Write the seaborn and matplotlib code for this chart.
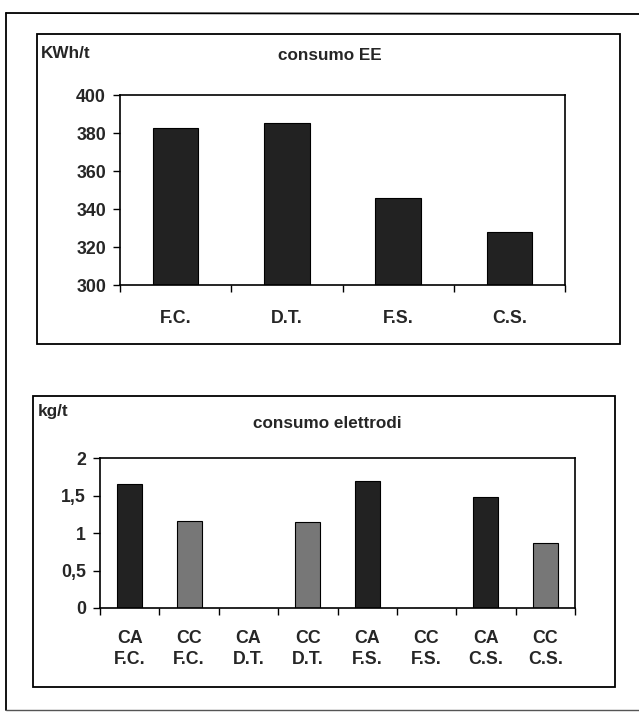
import numpy as np
import pandas as pd
import matplotlib
matplotlib.use("Agg")
import matplotlib.pyplot as plt
from matplotlib.patches import Rectangle
from matplotlib.lines import Line2D
from matplotlib.ticker import FixedLocator
import seaborn as sns

# ---- data ----
EE_CATS = ["F.C.", "D.T.", "F.S.", "C.S."]
EE_VALUES = [382.5, 385.5, 346, 328]
EE_TICKS = [300, 320, 340, 360, 380, 400]

EL_TYPES = ["CA", "CC", "CA", "CC", "CA", "CC", "CA", "CC"]
EL_PLANTS = ["F.C.", "F.C.", "D.T.", "D.T.", "F.S.", "F.S.", "C.S.", "C.S."]
EL_VALUES = [1.65, 1.16, 0, 1.15, 1.69, 0, 1.48, 0.87]
EL_TICKS = [0, 0.5, 1, 1.5, 2]
EL_TICKLABELS = ["0", "0,5", "1", "1,5", "2"]

DARK = "#222222"
GREY = "#777777"
TICK_FS = 12.8
TITLE_FS = 12.3

sns.set_theme(style="white")
plt.rcParams["font.family"] = ["Liberation Sans", "DejaVu Sans"]
plt.rcParams["font.weight"] = "bold"

W, H = 639, 714
fig = plt.figure(figsize=(W / 100, H / 100), dpi=100)


def fx(px): return px / W
def fy(py): return 1 - py / H


def frame(x0, y0, x1, y1, lw=1.3):
    fig.add_artist(Rectangle((fx(x0), fy(y1)), fx(x1) - fx(x0), fy(y0) - fy(y1),
                             transform=fig.transFigure, fill=False,
                             edgecolor="black", linewidth=lw))


def style_axes(ax):
    for s in ax.spines.values():
        s.set_visible(True)
        s.set_color("black")
        s.set_linewidth(1.2)
    ax.tick_params(axis="y", which="major", left=True, length=5, width=1,
                   color="black", pad=5, labelsize=TICK_FS)
    ax.tick_params(axis="x", which="major", bottom=False, labelsize=TICK_FS)
    ax.tick_params(axis="x", which="minor", bottom=True, length=5, width=1,
                   color="black", direction="out")
    for lab in ax.get_yticklabels() + ax.get_xticklabels():
        lab.set_fontweight("bold")
    ax.set_xlabel("")
    ax.set_ylabel("")
    ax.grid(False)


# outer page frame
fig.add_artist(Line2D([fx(6), 1.0], [fy(13), fy(14)], transform=fig.transFigure,
                      color="black", linewidth=1.3))
fig.add_artist(Line2D([fx(6), fx(6)], [fy(13), fy(710)], transform=fig.transFigure,
                      color="black", linewidth=1.3))
fig.add_artist(Line2D([fx(6), 1.0], [fy(710), fy(710)], transform=fig.transFigure,
                      color="#555555", linewidth=1.0))

# ---- top chart: consumo EE ----
frame(37, 34, 620, 344)
ax1 = fig.add_axes([fx(120), fy(285), fx(565) - fx(120), fy(95) - fy(285)])
df_ee = pd.DataFrame({"impianto": EE_CATS, "kwh": EE_VALUES})
sns.barplot(data=df_ee, x="impianto", y="kwh", color=DARK, saturation=1,
            width=0.41, edgecolor="black", linewidth=0.8, ax=ax1)
ax1.set_ylim(EE_TICKS[0], EE_TICKS[-1])
ax1.set_yticks(EE_TICKS)
ax1.set_xlim(-0.5, len(EE_CATS) - 0.5)
ax1.xaxis.set_minor_locator(FixedLocator(np.arange(-0.5, len(EE_CATS), 1.0)))
style_axes(ax1)
ax1.tick_params(axis="x", which="major", pad=12)
for lab in ax1.get_xticklabels():
    lab.set_fontweight("bold")
fig.text(fx(41), fy(53), "KWh/t", ha="left", va="center", fontsize=TITLE_FS,
         fontweight="bold")
fig.text(fx(330), fy(56), "consumo EE", ha="center", va="center", fontsize=TITLE_FS,
         fontweight="bold")

# ---- bottom chart: consumo elettrodi ----
frame(33, 396, 615, 687)
ax2 = fig.add_axes([fx(100), fy(608), fx(575) - fx(100), fy(458) - fy(608)])
labels = [f"{t}\n{p}" for t, p in zip(EL_TYPES, EL_PLANTS)]
df_el = pd.DataFrame({"cat": labels, "tipo": EL_TYPES, "kg": EL_VALUES})
sns.barplot(data=df_el, x="cat", y="kg", hue="tipo", dodge=False,
            palette={"CA": DARK, "CC": GREY}, saturation=1, width=0.42,
            edgecolor="black", linewidth=0.8, legend=False, ax=ax2)
ax2.set_ylim(EL_TICKS[0], EL_TICKS[-1])
ax2.set_yticks(EL_TICKS)
ax2.set_yticklabels(EL_TICKLABELS)
ax2.set_xlim(-0.5, len(labels) - 0.5)
ax2.xaxis.set_minor_locator(FixedLocator(np.arange(-0.5, len(labels), 1.0)))
style_axes(ax2)
ax2.tick_params(axis="x", which="major", pad=10)
for lab in ax2.get_xticklabels():
    lab.set_fontweight("bold")
    lab.set_linespacing(1.3)
fig.text(fx(38), fy(412), "kg/t", ha="left", va="center", fontsize=TITLE_FS,
         fontweight="bold")
fig.text(fx(327), fy(423), "consumo elettrodi", ha="center", va="center",
         fontsize=TITLE_FS, fontweight="bold")

fig.savefig("out.png", dpi=100, facecolor="white")
